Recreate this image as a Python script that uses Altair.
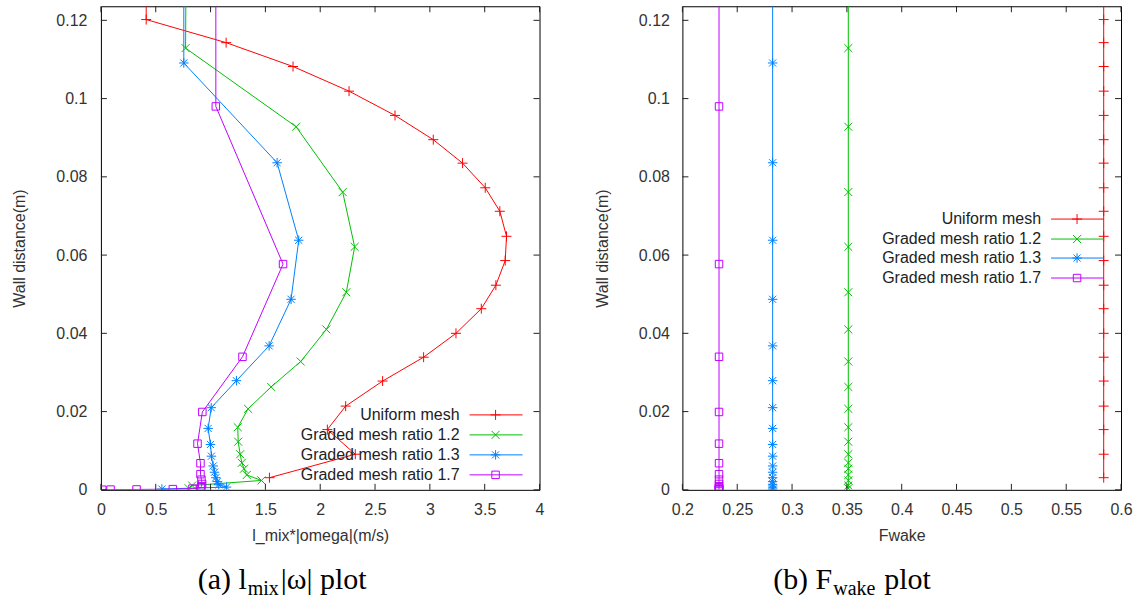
import altair as alt
import pandas as pd

SERIES = ["Uniform mesh", "Graded mesh ratio 1.2", "Graded mesh ratio 1.3", "Graded mesh ratio 1.7"]
COLORS = ["#ff0000", "#00c000", "#0080ff", "#c000ff"]

# Wall distance (m) of each sample, per mesh
Y_UNIFORM = [0.0031, 0.0091, 0.0154, 0.0214, 0.0278, 0.0339, 0.0400, 0.0463, 0.0523, 0.0586, 0.0648,
             0.0712, 0.0772, 0.0835, 0.0895, 0.0957, 0.1019, 0.1082, 0.1143, 0.1202, 0.1264]
Y_R12 = [0.0004, 0.0011, 0.0024, 0.0038, 0.0054, 0.0069, 0.0091, 0.0123, 0.0160, 0.0207, 0.0263,
         0.0328, 0.0410, 0.0505, 0.0621, 0.0761, 0.0928, 0.1129, 0.1370]
Y_R13 = [0.0002, 0.0007, 0.0013, 0.0021, 0.0031, 0.0045, 0.0061, 0.0086, 0.0116, 0.0157, 0.0210,
         0.0279, 0.0368, 0.0487, 0.0638, 0.0836, 0.1091, 0.1420]
Y_R17 = [0.00003, 0.00006, 0.0001, 0.00018, 0.0003, 0.00055, 0.0009, 0.0015, 0.0026, 0.0040, 0.0068,
         0.0118, 0.0199, 0.0340, 0.0577, 0.0980, 0.1665]

# l_mix*|omega| (m/s)
L_UNIFORM = [1.537, 2.320, 2.065, 2.232, 2.569, 2.943, 3.238, 3.469, 3.602, 3.687, 3.699,
             3.638, 3.505, 3.298, 3.031, 2.682, 2.263, 1.752, 1.142, 0.413, 0.413]
L_R12 = [0.800, 0.832, 1.464, 1.330, 1.305, 1.285, 1.270, 1.252, 1.248, 1.342, 1.552,
         1.822, 2.056, 2.238, 2.314, 2.205, 1.780, 0.772, 0.777]
L_R13 = [0.556, 1.145, 1.075, 1.060, 1.048, 1.036, 1.024, 1.008, 0.999, 0.978, 1.006,
         1.236, 1.534, 1.734, 1.804, 1.607, 0.756, 0.756]
L_R17 = [0.012, 0.088, 0.325, 0.656, 0.835, 0.910, 0.917, 0.923, 0.917, 0.908, 0.908,
         0.881, 0.925, 1.291, 1.661, 1.048, 1.048]

# Fwake (constant per mesh)
FWAKE = [0.5842, 0.3513, 0.2823, 0.2334]

X_TICKS_A = [0, 0.5, 1, 1.5, 2, 2.5, 3, 3.5, 4]
X_TICKS_B = [0.2, 0.25, 0.3, 0.35, 0.4, 0.45, 0.5, 0.55, 0.6]
Y_TICKS = [0, 0.02, 0.04, 0.06, 0.08, 0.1, 0.12]
Y_MAX = 0.1236

SHAPES = ["M-1,0H1M0,-1V1",
          "M-1,-1L1,1M-1,1L1,-1",
          "M-1,0H1M0,-1V1M-0.75,-0.75L0.75,0.75M-0.75,0.75L0.75,-0.75",
          "M-1,-1H1V1H-1Z"]
SIZES = [100, 64, 90, 56]

rows = []
for s, ys, ls, fw in zip(SERIES, [Y_UNIFORM, Y_R12, Y_R13, Y_R17],
                         [L_UNIFORM, L_R12, L_R13, L_R17], FWAKE):
    for i, (yv, lv) in enumerate(zip(ys, ls)):
        rows.append({"series": s, "idx": i, "y": yv, "lmix": lv, "fwake": fw})
df = pd.DataFrame(rows)

W, H = 439, 484
FONT = "Liberation Sans, Arial, sans-serif"
SERIF = "Liberation Serif, Times New Roman, serif"
dummy = pd.DataFrame({"d": [0]})


def panel(field, xdom, xticks, xtitle, leg_y, caption, ylabpad):
    xs = alt.Scale(domain=xdom, nice=False, zero=False)
    ys = alt.Scale(domain=[0, Y_MAX], nice=False, zero=False)
    xenc = alt.X(f"{field}:Q", scale=xs,
                 axis=alt.Axis(values=xticks, format="~g", title=xtitle, labelPadding=12,
                               titlePadding=10, labelFlush=False, labelOverlap=False))
    yenc = alt.Y("y:Q", scale=ys,
                 axis=alt.Axis(values=Y_TICKS, format="~g", title="Wall distance(m)",
                               labelPadding=ylabpad, titlePadding=28, labelOverlap=False))
    base = alt.Chart(df)
    layers = []
    layers.append(base.mark_line(clip=True, strokeWidth=1).encode(
        x=xenc, y=yenc,
        color=alt.Color("series:N", scale=alt.Scale(domain=SERIES, range=COLORS), legend=None),
        order=alt.Order("idx:Q")))
    for i, s in enumerate(SERIES):
        layers.append(base.transform_filter(alt.datum.series == s).mark_point(
            clip=True, shape=SHAPES[i], size=SIZES[i], filled=False, color=COLORS[i],
            strokeWidth=1, opacity=1).encode(x=xenc, y=yenc))
    xt = pd.DataFrame({field: xticks})
    yt = pd.DataFrame({"y": Y_TICKS})
    tc = "#222222"
    layers.append(alt.Chart(xt).mark_rule(color=tc, strokeWidth=1).encode(
        x=xenc, y=alt.value(H), y2=alt.value(H - 6)))
    layers.append(alt.Chart(xt).mark_rule(color=tc, strokeWidth=1).encode(
        x=xenc, y=alt.value(0), y2=alt.value(6)))
    layers.append(alt.Chart(yt).mark_rule(color=tc, strokeWidth=1).encode(
        y=yenc, x=alt.value(0), x2=alt.value(6)))
    layers.append(alt.Chart(yt).mark_rule(color=tc, strokeWidth=1).encode(
        y=yenc, x=alt.value(W), x2=alt.value(W - 6)))
    # legend (gnuplot style: label, then line sample with marker)
    for i, s in enumerate(SERIES):
        ly = leg_y[i]
        layers.append(alt.Chart(dummy).mark_text(
            text=s, align="right", baseline="middle", font=FONT, fontSize=16,
            color="#222222").encode(x=alt.value(359), y=alt.value(ly)))
        layers.append(alt.Chart(dummy).mark_rule(color=COLORS[i], strokeWidth=1).encode(
            x=alt.value(369), x2=alt.value(422), y=alt.value(ly)))
        layers.append(alt.Chart(dummy).mark_point(
            shape=SHAPES[i], size=SIZES[i], filled=False, color=COLORS[i],
            strokeWidth=1, opacity=1).encode(x=alt.value(395), y=alt.value(ly)))
    # caption
    for txt, xpos, dy, size, align in caption:
        layers.append(alt.Chart(dummy).mark_text(
            text=txt, align=align, baseline="alphabetic", font=SERIF, fontSize=size,
            color="#000000").encode(x=alt.value(xpos), y=alt.value(H + 99 + dy)))
    return alt.layer(*layers).properties(width=W, height=H)


cap_a = [("(a) l", 146, 0, 30, "right"), ("mix", 147, 6, 20, "left"), ("|ω| plot", 180, 0, 30, "left")]
cap_b = [("(b) F", 150, 0, 30, "right"), ("wake", 151, 6, 20, "left"), ("plot", 202, 0, 30, "left")]

left = panel("lmix", [0, 4], X_TICKS_A, "l_mix*|omega|(m/s)", [409, 429, 449, 469], cap_a, 14)
right = panel("fwake", [0.2, 0.6], X_TICKS_B, "Fwake", [213, 233, 252, 272], cap_b, 13)

chart = alt.hconcat(left, right, spacing=49).properties(
    padding={"left": 11, "top": 5, "right": 5, "bottom": 2}
).configure_view(stroke="#000000", strokeWidth=1).configure_axis(
    labelFont=FONT, labelFontSize=16, labelColor="#333333",
    titleFont=FONT, titleFontSize=16, titleFontWeight="normal", titleColor="#333333",
    ticks=False, domain=False, grid=False)

chart.save("out.html", embed_options={"renderer": "svg", "actions": False})
